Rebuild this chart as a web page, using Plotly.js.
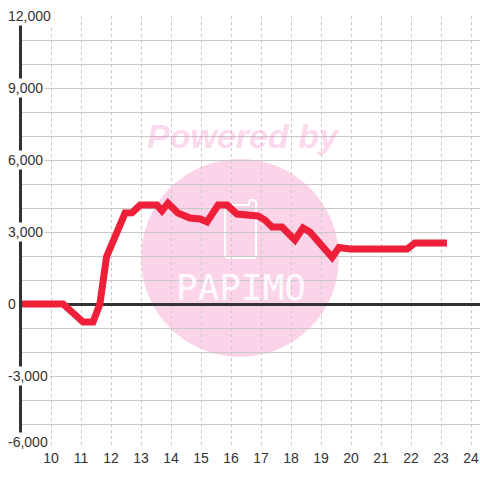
<!DOCTYPE html>
<html>
<head>
<meta charset="utf-8">
<script src="https://cdn.plot.ly/plotly-3.0.1.min.js"></script>
<style>html,body{margin:0;padding:0;background:#fff;}#chart{width:480px;height:480px;}</style>
</head>
<body>
<div id="chart"></div>
<script>
// Data (hour of day vs value)
const hours = [9, 10.4, 11.07, 11.4, 11.63, 11.85, 12.47, 12.7, 12.97, 13.53, 13.7, 13.9, 14.23, 14.63, 14.97, 15.2, 15.57, 15.87, 16.2, 16.9, 17.13, 17.37, 17.7, 18.13, 18.4, 18.63, 19.37, 19.6, 19.97, 21.87, 22.13, 23.2];
const values = [0, 0, -750, -750, 0, 1960, 3790, 3800, 4120, 4120, 3880, 4200, 3790, 3580, 3540, 3420, 4120, 4120, 3750, 3670, 3500, 3210, 3210, 2670, 3170, 3000, 1940, 2350, 2290, 2290, 2540, 2540];

const xTickVals = [10, 11, 12, 13, 14, 15, 16, 17, 18, 19, 20, 21, 22, 23, 24];
const xTickText = ["10", "11", "12", "13", "14", "15", "16", "17", "18", "19", "20", "21", "22", "23", "24"];
const yTickVals = [12000, 9000, 6000, 3000, 0, -3000, -6000];
const yTickText = ["12,000", "9,000", "6,000", "3,000", "0", "-3,000", "-6,000"];

const FONT = "Liberation Sans, Arial, sans-serif";
const TXT = "#333333";

const trace = {
  x: hours, y: values, type: "scatter", mode: "lines",
  line: {color: "#ee2039", width: 7, shape: "linear"},
  hoverinfo: "skip"
};

const yLabelAnns = yTickVals.map((v, i) => ({
  xref: "paper", yref: "y", x: 0, y: v,
  xanchor: "left", yanchor: "middle",
  xshift: -16, yshift: (v === -6000 ? 6 : 0),
  text: yTickText[i], showarrow: false,
  bgcolor: "#ffffff", borderpad: 1,
  font: {family: FONT, size: 14, color: TXT}
}));

const watermarkAnns = [
  {xref: "paper", yref: "paper", x: 0.484, y: 0.7222, xanchor: "center", yanchor: "middle",
   text: "Powered by", showarrow: false,
   font: {family: FONT, size: 34, weight: "bold", style: "italic", color: "rgba(245,120,190,0.3)"}},
  {xref: "paper", yref: "paper", x: 0.478, y: 0.372, xanchor: "center", yanchor: "middle",
   text: "PAPIMO", showarrow: false,
   font: {family: "DejaVu Sans Mono, monospace", size: 36, color: "rgba(255,255,255,0.9)"}}
];

const layout = {
  width: 480, height: 480,
  margin: {l: 22, r: 0, t: 16, b: 32, pad: 0},
  paper_bgcolor: "#ffffff", plot_bgcolor: "rgba(0,0,0,0)",
  showlegend: false,
  xaxis: {
    range: [9.0333, 24.3], fixedrange: true,
    tickvals: xTickVals, ticktext: xTickText, ticks: "",
    tickfont: {family: FONT, size: 14, color: TXT},
    showgrid: true, gridcolor: "#c8c8c8", gridwidth: 1, griddash: "dot",
    zeroline: false, showline: false
  },
  yaxis: {
    range: [-6000, 12000], fixedrange: true,
    dtick: 1000, tick0: 0, ticks: "", showticklabels: false,
    showgrid: true, gridcolor: "#c8c8c8", gridwidth: 1,
    zeroline: true, zerolinecolor: "#333333", zerolinewidth: 3,
    showline: true, linecolor: "#333333", linewidth: 3
  },
  shapes: [
    {type: "circle", xref: "paper", yref: "paper", layer: "below",
     x0: 0.2598, x1: 0.6921, y0: 0.2106, y1: 0.669,
     fillcolor: "#fcd4ea", line: {width: 0}},
    {type: "path", xref: "paper", yref: "paper", layer: "below",
     path: "M0.4498,0.4398 L0.5043,0.4398 Q0.5109,0.4398 0.5109,0.4467 L0.5109,0.5672 Q0.5109,0.5741 0.5043,0.5741 L0.5022,0.5741 Q0.4956,0.5741 0.4956,0.5672 L0.4956,0.5625 L0.4498,0.5625 Q0.4432,0.5625 0.4432,0.5556 L0.4432,0.4467 Q0.4432,0.4398 0.4498,0.4398 Z",
     fillcolor: "rgba(0,0,0,0)", line: {color: "#ffffff", width: 2}}
  ],
  annotations: watermarkAnns.concat(yLabelAnns)
};

Plotly.newPlot("chart", [trace], layout, {staticPlot: true, displayModeBar: false});
</script>
</body>
</html>
